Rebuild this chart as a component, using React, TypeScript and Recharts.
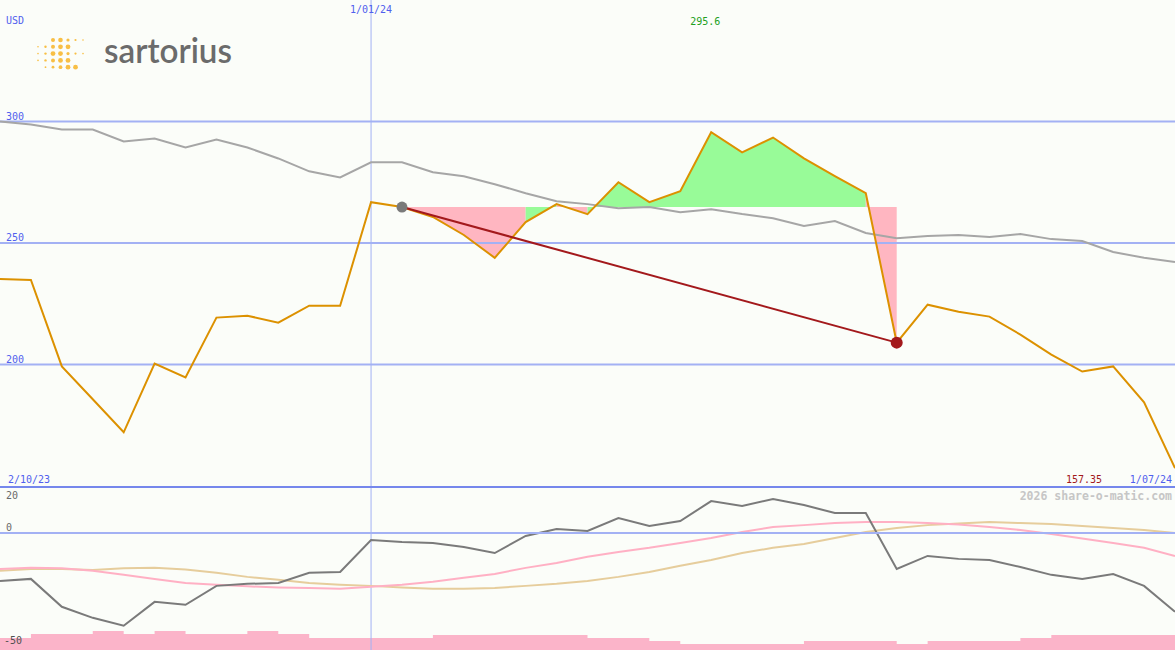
import React from 'react';
import { ComposedChart, Line, Area, XAxis, YAxis, ReferenceLine } from 'recharts';

const W = 1175;
const TOP_H = 486;
const LOW_H = 162;

// labels
const dateLabels = ['2/10/23', '1/01/24', '1/07/24'];
const yearMarkIndex = 12; // week of 1/01/24
const priceTicks = [200, 250, 300];
const oscTicks = [20, 0, -50];
const currency = 'USD';
const footer = '2026 share-o-matic.com';

// weekly close
const price = [
  235.2, 234.8, 199.2, 185.7, 172.1, 200.4, 194.7, 219.3, 220.1, 217.2,
  224.2, 224.2, 266.8, 264.8, 260.7, 253.3, 243.9, 258.6, 266.0, 261.9,
  275.0, 266.8, 271.3, 295.6, 287.3, 293.4, 284.8, 277.5, 270.5, 209.0,
  224.6, 221.7, 219.7, 212.3, 204.1, 197.1, 199.2, 184.4, 157.35,
];

// moving average (grey)
const movingAvg = [
  300.0, 298.8, 296.7, 296.7, 291.8, 293.0, 289.3, 292.6, 289.3, 284.8,
  279.5, 277.0, 283.2, 283.2, 279.1, 277.5, 274.2, 270.5, 267.2, 266.0,
  264.3, 264.8, 262.7, 263.9, 261.9, 260.2, 257.0, 259.0, 254.1, 252.0,
  252.9, 253.3, 252.5, 253.7, 251.6, 250.8, 246.3, 243.9, 242.2,
];

// lower panel
const momentum = [
  -21.3, -20.4, -32.8, -37.7, -41.2, -30.6, -31.9, -23.5, -22.6, -22.2,
  -17.7, -17.3, -3.1, -4.0, -4.4, -6.2, -8.9, -1.3, 1.8, 0.9,
  6.6, 3.1, 5.3, 14.2, 12.0, 15.1, 12.4, 8.9, 8.9, -16.0,
  -10.2, -11.5, -12.0, -15.1, -18.6, -20.4, -18.2, -23.5, -35.0,
];
const signalFast = [
  -16.0, -15.5, -15.7, -16.8, -18.6, -20.4, -22.2, -23.0, -23.7, -24.2,
  -24.4, -24.8, -23.9, -23.0, -21.7, -19.9, -18.2, -15.5, -13.3, -10.6,
  -8.4, -6.6, -4.4, -2.2, 0.4, 2.7, 3.5, 4.4, 4.9, 4.9,
  4.4, 3.8, 2.7, 1.3, -0.4, -2.4, -4.4, -6.6, -10.2,
];
const signalSlow = [
  -16.8, -16.0, -16.0, -16.4, -15.7, -15.5, -16.2, -17.7, -19.5, -20.8,
  -22.2, -23.0, -23.5, -24.2, -24.8, -24.8, -24.4, -23.5, -22.6, -21.3,
  -19.5, -17.3, -14.6, -12.0, -8.9, -6.6, -4.9, -2.2, 0.4, 2.2,
  3.5, 4.2, 4.9, 4.4, 4.0, 3.1, 2.2, 1.3, 0.0,
];
const volume = [
  12, 16, 16, 19, 16, 19, 16, 16, 19, 16,
  12, 12, 12, 12, 15, 15, 15, 15, 15, 12,
  12, 9, 6, 6, 6, 6, 9, 9, 9, 6,
  9, 9, 9, 12, 15, 15, 15, 15, 15,
];

// trade: bought / sold week
const buyIndex = 13;
const sellIndex = 29;

const BG = '#fbfdf9';
const GRID = '#a3b1f4';
const BLUE_TXT = '#5060ee';
const FONT = '"DejaVu Sans Mono", monospace';
const GAIN = '#98fb98';
const LOSS = '#ffb6c1';

const last = price.length - 1;
const level = price[buyIndex];

// group consecutive segments of the same colour into runs
const runs: { key: string; from: number; to: number; color: string }[] = [];
for (let s = buyIndex; s < sellIndex; s++) {
  const color = price[s + 1] >= level ? GAIN : LOSS;
  const prev = runs[runs.length - 1];
  if (prev && prev.color === color) prev.to = s + 1;
  else runs.push({ key: 'run' + s, from: s, to: s + 1, color });
}

const rows = price.map((p, i) => {
  const row: any = {
    i,
    price: p,
    ma: movingAvg[i],
    trade: i === buyIndex || i === sellIndex ? p : null,
    momentum: momentum[i],
    fast: signalFast[i],
    slow: signalSlow[i],
    volume: volume[i],
  };
  runs.forEach((r) => {
    row[r.key] = i >= r.from && i <= r.to ? [level, p] : null;
  });
  return row;
});

const maxVal = Math.max(...price);
const maxIdx = price.indexOf(maxVal);
const minVal = Math.min(...price);

const TradeDot = (props: any) => {
  const { cx, cy, payload, index } = props;
  if (payload.trade == null || cy == null) return <g key={index} />;
  const buy = payload.i === buyIndex;
  return <circle key={index} cx={cx} cy={cy} r={buy ? 5.5 : 6} fill={buy ? '#7a7a7a' : '#a3191c'} />;
};

// logo dots: [col, row, radius]
const logoDots = [
  [2, 0, 2.0], [3, 0, 2.3], [4, 0, 1.6], [5, 0, 1.1], [6, 0, 0.8],
  [0, 1, 0.8], [1, 1, 1.2], [2, 1, 2.0], [3, 1, 2.4], [4, 1, 2.4],
  [0, 2, 0.8], [1, 2, 1.2], [2, 2, 2.4], [3, 2, 2.4], [4, 2, 1.6], [5, 2, 1.1], [6, 2, 0.8],
  [0, 3, 0.8], [1, 3, 1.2], [2, 3, 2.0], [3, 3, 2.4], [4, 3, 2.4],
  [1, 4, 0.9], [2, 4, 1.4], [3, 4, 1.9], [4, 4, 2.4], [5, 4, 2.4],
];

export default function App() {
  const xOf = (i: number) => (i * W) / last;
  return (
    <div style={{ position: 'absolute', left: 0, top: 0, width: W, height: 650, background: BG, overflow: 'hidden' }}>
      <ComposedChart width={W} height={TOP_H} data={rows} margin={{ top: 0, right: 0, bottom: 0, left: 0 }}>
        <XAxis dataKey="i" type="number" domain={[0, last]} hide />
        <YAxis domain={[150, 350]} hide />
        {priceTicks.map((t) => (
          <ReferenceLine
            key={t}
            y={t}
            stroke={GRID}
            strokeWidth={2}
            label={(p: any) => (
              <text x={6} y={p.viewBox.y - 2} fontSize={10} fontFamily={FONT} fill={BLUE_TXT}>
                {t}
              </text>
            )}
          />
        ))}
        <ReferenceLine
          x={yearMarkIndex}
          stroke={GRID}
          strokeWidth={1}
          label={(p: any) => (
            <text x={p.viewBox.x} y={13} textAnchor="middle" fontSize={10} fontFamily={FONT} fill={BLUE_TXT}>
              {dateLabels[1]}
            </text>
          )}
        />
        {runs.map((r) => (
          <Area
            key={r.key}
            dataKey={r.key}
            type="linear"
            stroke="none"
            fill={r.color}
            fillOpacity={1}
            dot={false}
            activeDot={false}
            isAnimationActive={false}
          />
        ))}
        <Line dataKey="ma" type="linear" stroke="#a6a6a6" strokeWidth={2} dot={false} activeDot={false} isAnimationActive={false} />
        <Line dataKey="price" type="linear" stroke="#dc9100" strokeWidth={2} dot={false} activeDot={false} isAnimationActive={false} />
        <Line
          dataKey="trade"
          type="linear"
          connectNulls
          stroke="#a3191c"
          strokeWidth={2}
          dot={TradeDot}
          activeDot={false}
          isAnimationActive={false}
        />
      </ComposedChart>
      <div style={{ height: 2, background: '#7587ec' }} />
      <ComposedChart width={W} height={LOW_H} data={rows} margin={{ top: 0, right: 0, bottom: 0, left: 0 }}>
        <XAxis dataKey="i" type="number" domain={[0, last]} hide />
        <YAxis yAxisId="osc" domain={[-52, 20]} hide />
        <YAxis yAxisId="vol" domain={[0, 162]} hide />
        <ReferenceLine yAxisId="osc" x={yearMarkIndex} stroke={GRID} strokeWidth={1} />
        <Line yAxisId="osc" dataKey="slow" type="linear" stroke="#e6cd9c" strokeWidth={2} dot={false} activeDot={false} isAnimationActive={false} />
        <Line yAxisId="osc" dataKey="fast" type="linear" stroke="#ffb0c4" strokeWidth={2} dot={false} activeDot={false} isAnimationActive={false} />
        <Line yAxisId="osc" dataKey="momentum" type="linear" stroke="#7a7a7a" strokeWidth={2} dot={false} activeDot={false} isAnimationActive={false} />
        <Area
          yAxisId="vol"
          dataKey="volume"
          type="stepAfter"
          stroke="none"
          fill="#fbb4c9"
          fillOpacity={1}
          dot={false}
          activeDot={false}
          isAnimationActive={false}
        />
        {oscTicks.map((t) => (
          <ReferenceLine
            key={t}
            yAxisId="osc"
            y={t}
            stroke={t === 0 ? GRID : 'none'}
            strokeWidth={2}
            label={(p: any) => (
              <text
                x={t < 0 ? 4 : 6}
                y={t === 20 ? p.viewBox.y + 11 : p.viewBox.y - 2}
                fontSize={10}
                fontFamily={FONT}
                fill={t < 0 ? '#505050' : '#6a6a6a'}
              >
                {t}
              </text>
            )}
          />
        ))}
      </ComposedChart>
      <svg width={W} height={650} style={{ position: 'absolute', left: 0, top: 0, pointerEvents: 'none' }}>
        <text x={6} y={24} fontSize={10} fontFamily={FONT} fill={BLUE_TXT}>{currency}</text>
        <text x={xOf(maxIdx) - 6} y={25} textAnchor="middle" fontSize={10} fontFamily={FONT} fill="#22a022">
          {maxVal}
        </text>
        <text x={8} y={483} fontSize={10} fontFamily={FONT} fill={BLUE_TXT}>{dateLabels[0]}</text>
        <text x={1172} y={483} textAnchor="end" fontSize={10} fontFamily={FONT} fill={BLUE_TXT}>{dateLabels[2]}</text>
        <text x={1102} y={483} textAnchor="end" fontSize={10} fontFamily={FONT} fill="#a3191c">{minVal}</text>
        <text x={1172} y={500} textAnchor="end" fontSize={11.5} fontWeight="bold" fontFamily={FONT} fill="#c6c6c6">
          {footer}
        </text>
        <g fill="#f8bf45">
          {logoDots.map(([c, r, rad], k) => (
            <circle key={k} cx={38 + c * 7.5} cy={40 + r * 6.8} r={rad} />
          ))}
        </g>
        <text
          x={104}
          y={63}
          fontSize={34}
          fontWeight={600}
          fontFamily="Lato, sans-serif"
          fill="#6b6b6b"
          textLength={128}
          lengthAdjust="spacingAndGlyphs"
        >
          sartorius
        </text>
      </svg>
    </div>
  );
}
